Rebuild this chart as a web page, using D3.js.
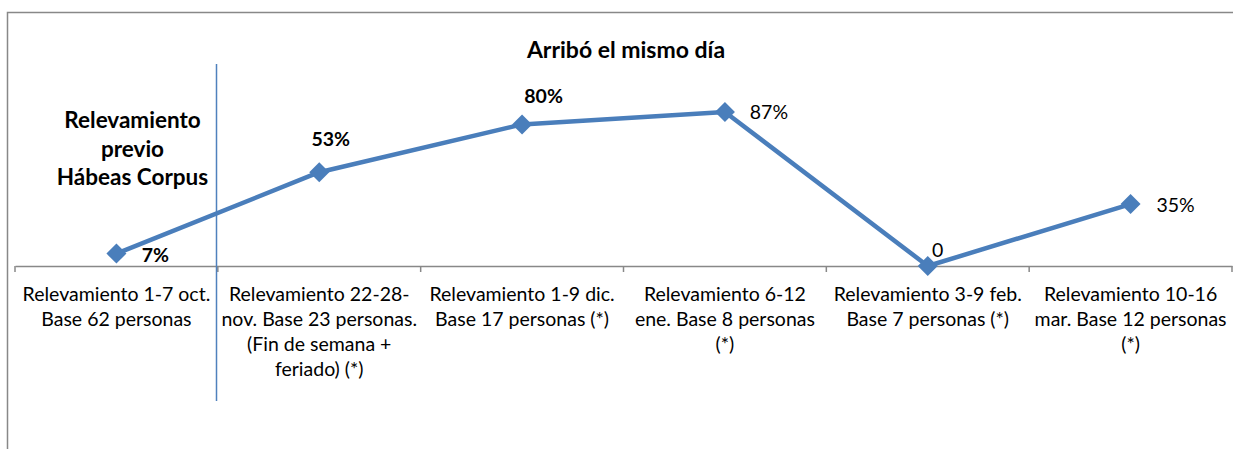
<!DOCTYPE html>
<html>
<head>
<meta charset="utf-8">
<script src="https://cdnjs.cloudflare.com/ajax/libs/d3/7.8.5/d3.min.js"></script>
<style>
  body { margin: 0; background: #fff; }
  text { font-family: Lato, "Open Sans", sans-serif; fill: #000; }
</style>
</head>
<body>
<script>
// data
var categories = [
    ["Relevamiento 1-7 oct.", "Base 62 personas"],
    ["Relevamiento 22-28-", "nov. Base 23 personas.", "(Fin de semana +", "feriado) (*)"],
    ["Relevamiento 1-9 dic.", "Base 17 personas (*)"],
    ["Relevamiento 6-12", "ene. Base 8 personas", "(*)"],
    ["Relevamiento 3-9 feb.", "Base 7 personas (*)"],
    ["Relevamiento 10-16", "mar. Base 12 personas", "(*)"]
];
var values = [7, 53, 80, 87, 0, 35];
var valueLabels = ["7%", "53%", "80%", "87%", "0", "35%"];
var labelBold = [true, true, true, false, false, false];

var W = 1233, H = 449;
var svg = d3.select("body").append("svg").attr("width", W).attr("height", H);

// chart frame (runs past the window on the right and bottom)
svg.append("rect")
    .attr("x", 7.5).attr("y", 12.5)
    .attr("width", 1300).attr("height", 500)
    .attr("fill", "none").attr("stroke", "#888").attr("stroke-width", 1.5);

var x = d3.scaleBand().domain(d3.range(categories.length)).range([15, 1232]);
var y = d3.scaleLinear().domain([0, 100]).range([266, 89]);

// axis
var xAxis = d3.axisBottom(x).tickSize(0).tickFormat("");
var gx = svg.append("g").attr("transform", "translate(0,266)").call(xAxis);
gx.select(".domain").attr("stroke", "#888").attr("stroke-width", 1.5);

var tickX = d3.range(categories.length + 1).map(function(i){ return 15 + i * x.step(); });
svg.selectAll("line.tick")
    .data(tickX)
    .enter()
    .append("line")
    .attr("class", "tick")
    .attr("x1", function(d){ return d; }).attr("x2", function(d){ return d; })
    .attr("y1", 266).attr("y2", 272)
    .attr("stroke", "#888").attr("stroke-width", 1.5);

// category labels
categories.forEach(function(lines, i){
    var t = svg.append("text")
        .attr("text-anchor", "middle")
        .attr("font-size", 19.5);
    lines.forEach(function(l, j){
        t.append("tspan")
            .attr("x", x(i) + x.bandwidth() / 2)
            .attr("y", 301 + j * 25)
            .text(l);
    });
});

// separator line
svg.append("line")
    .attr("x1", 216.5).attr("x2", 216.5)
    .attr("y1", 64).attr("y2", 401)
    .attr("stroke", "#4F81BD").attr("stroke-width", 1.5);

// title
svg.append("text")
    .attr("x", 626).attr("y", 58)
    .attr("text-anchor", "middle")
    .attr("font-size", 23).attr("font-weight", "bold")
    .text("Arribó el mismo día");

// side note
var note = svg.append("text")
    .attr("text-anchor", "middle")
    .attr("font-size", 22.5).attr("font-weight", "bold");
["Relevamiento", "previo", "Hábeas Corpus"].forEach(function(l, j){
    note.append("tspan").attr("x", 132.5).attr("y", 128 + j * 28.5).text(l);
});

// line
var line = d3.line()
    .x(function(d, i){ return x(i) + x.bandwidth() / 2; })
    .y(function(d){ return y(d); });

svg.append("path")
    .datum(values)
    .attr("d", line)
    .attr("fill", "none")
    .attr("stroke", "#4A7EBB")
    .attr("stroke-width", 4.5)
    .attr("stroke-linejoin", "round");

svg.selectAll("path.marker")
    .data(values)
    .enter()
    .append("path")
    .attr("class", "marker")
    .attr("d", "M0,-10L10,0L0,10L-10,0Z")
    .attr("fill", "#4A7EBB")
    .attr("transform", function(d, i){
        return "translate(" + (x(i) + x.bandwidth() / 2) + "," + y(d) + ")";
    });

// value labels (offset of baseline from the point)
var labelDx = [39, 11.5, 21.5, 44, 10, 45];
var labelDy = [8, -26, -21.5, 7, -9.5, 8];
svg.selectAll("text.vlabel")
    .data(values)
    .enter()
    .append("text")
    .attr("class", "vlabel")
    .attr("text-anchor", "middle")
    .attr("font-size", 19.5)
    .attr("font-weight", function(d, i){ return labelBold[i] ? "bold" : "normal"; })
    .attr("x", function(d, i){ return x(i) + x.bandwidth() / 2 + labelDx[i]; })
    .attr("y", function(d, i){ return y(d) + labelDy[i]; })
    .text(function(d, i){ return valueLabels[i]; });
</script>
</body>
</html>
